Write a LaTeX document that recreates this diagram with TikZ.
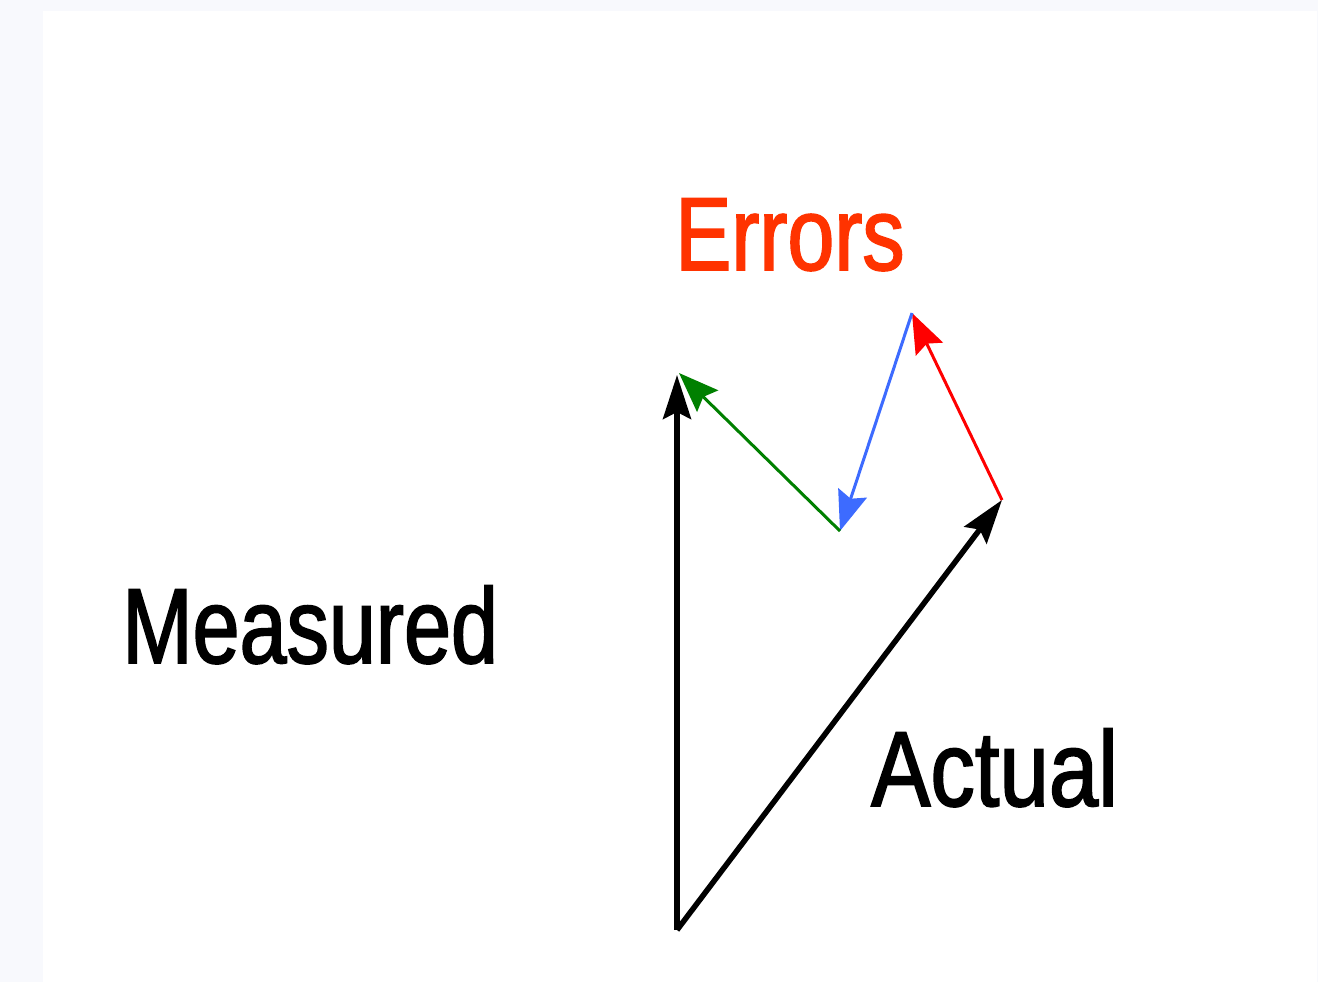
\documentclass[tikz,border=0pt]{standalone}
\usepackage{fontspec}
\setmainfont[FakeStretch=0.79,FakeBold=1.6]{Liberation Sans}
\newfontfamily\widerlbl[FakeStretch=0.83,FakeBold=1.6]{Liberation Sans}
\newfontfamily\errlbl[FakeStretch=0.81,FakeBold=1.6]{Liberation Sans}
\usetikzlibrary{arrows.meta}
\definecolor{bgout}{HTML}{F8F9FD}
\definecolor{errtxt}{HTML}{FF3300}
\definecolor{gerr}{HTML}{008000}
\definecolor{berr}{HTML}{3D6BFF}
\definecolor{rerr}{HTML}{FF0000}
\begin{document}
\begin{tikzpicture}[x=1pt,y=-1pt,
  bigvec/.style={line width=5.5pt,-{Stealth[length=44pt,width=28pt,inset=7pt]},black},
  errvec/.style={line width=3pt,-{Stealth[length=40pt,width=30pt,inset=6pt]}},
  lbl/.style={anchor=base west,inner sep=0pt,font=\fontsize{107}{120}\selectfont}]
\useasboundingbox (0,0) rectangle (1318,982);
\fill[bgout] (0,0) rectangle (1318,982);
\fill[white] (43,11) rectangle (1317,982);
\coordinate (O) at (677,930);
\coordinate (M) at (677,375);
\coordinate (A) at (1002,500);
\coordinate (P) at (912,313);
\coordinate (Q) at (840,531);
\draw[bigvec] (O) -- (M);
\draw[bigvec] (O) -- (A);
\draw[errvec,rerr] (A) -- (P);
\draw[errvec,berr] (P) -- (Q);
\draw[errvec,gerr] (Q) -- ([xshift=2pt,yshift=2pt]M);
\node[lbl] (meas) at (122,663) {Measured};
\node[lbl,font=\widerlbl\fontsize{107}{120}\selectfont] (act) at (871,806) {Actual};
\node[lbl,text=errtxt,font=\errlbl\fontsize{104}{116}\selectfont] (err) at (675,270) {Errors};
\end{tikzpicture}
\end{document}
